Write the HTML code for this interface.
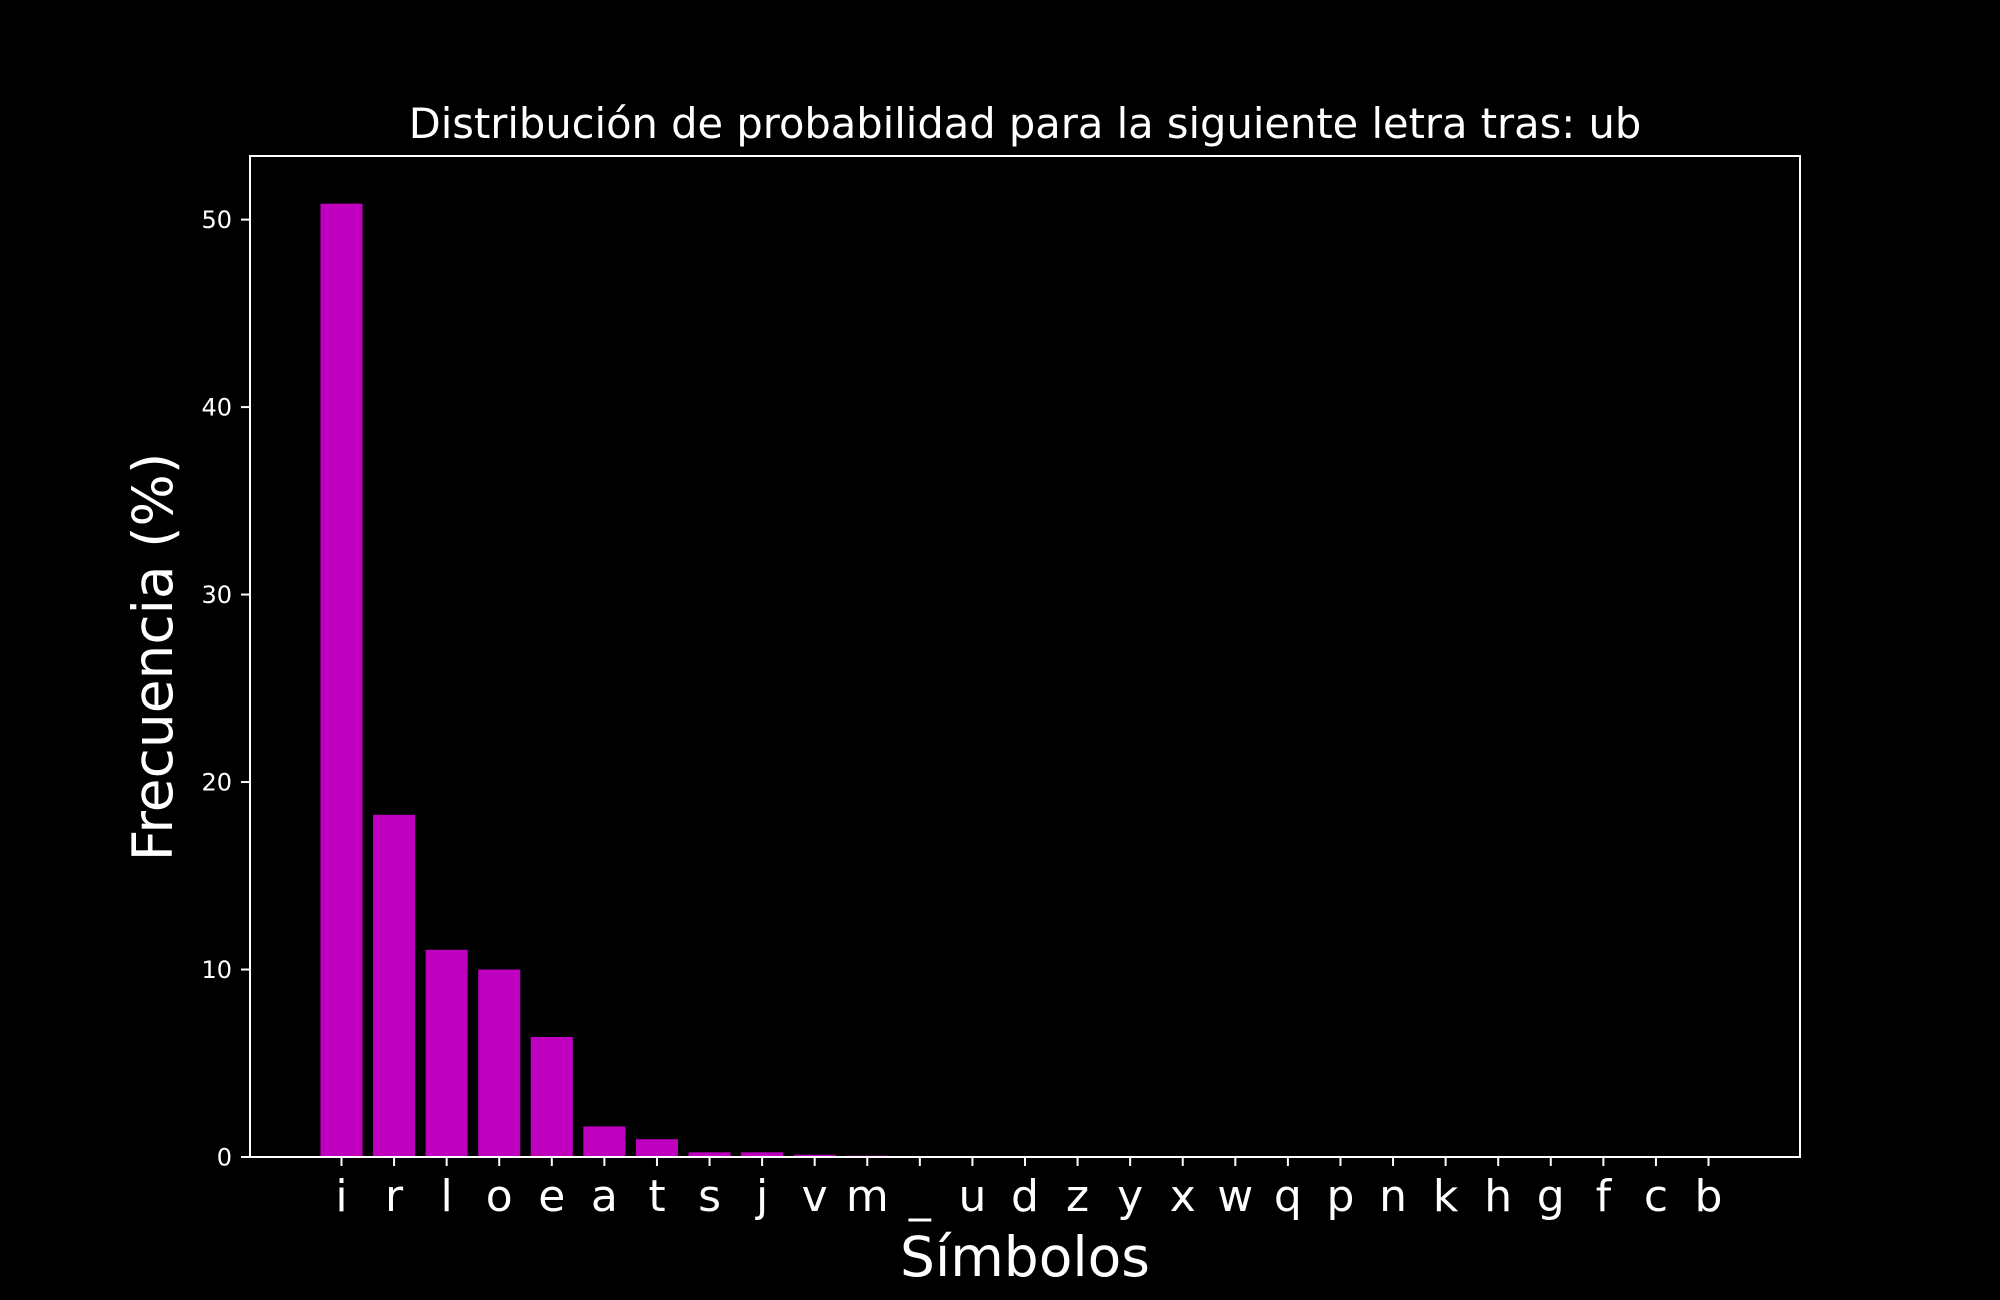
<!DOCTYPE html>
<html><head><meta charset="utf-8"><style>
html,body{margin:0;padding:0;background:#000;}
svg{display:block;font-family:"DejaVu Sans","Liberation Sans",sans-serif;}
</style></head><body>
<svg id="chart" width="2000" height="1300" viewBox="0 0 2000 1300">
<rect width="2000" height="1300" fill="#000"/>
<g id="bars"></g>
<g id="xticks"></g>
<g id="yticks"></g>
<rect x="250" y="156" width="1550" height="1001" fill="none" stroke="#fff" stroke-width="2"/>
<text x="1025" y="138" fill="#fff" font-size="41.6" text-anchor="middle">Distribución de probabilidad para la siguiente letra tras: ub</text>
<text x="1025" y="1276" fill="#fff" font-size="55" text-anchor="middle">Símbolos</text>
<text transform="translate(172,657) rotate(-90)" fill="#fff" font-size="55" text-anchor="middle">Frecuencia (%)</text>
</svg>
<script>
const categories = ["i","r","l","o","e","a","t","s","j","v","m","_","u","d","z","y","x","w","q","p","n","k","h","g","f","c","b"];
const values = [50.85,18.25,11.05,10.0,6.4,1.63,0.95,0.25,0.25,0.12,0.07,0.05,0,0,0,0,0,0,0,0,0,0,0,0,0,0,0];
const yTicks = [0,10,20,30,40,50];
const NS="http://www.w3.org/2000/svg";
const L=250,R=1800,T=156,B=1157;
const n=categories.length;
const xmin=-0.4-0.05*(n-0.2), xmax=n-1+0.4+0.05*(n-0.2);
const ymax=Math.max(...values)*1.05;
const xs=v=>L+(v-xmin)/(xmax-xmin)*(R-L);
const ys=v=>B-v/ymax*(B-T);
const bars=document.getElementById('bars'), xt=document.getElementById('xticks'), yt=document.getElementById('yticks');
categories.forEach((c,i)=>{
  const r=document.createElementNS(NS,'rect');
  const x0=xs(i-0.4),x1=xs(i+0.4);
  r.setAttribute('x',x0);r.setAttribute('width',x1-x0);
  r.setAttribute('y',ys(values[i]));r.setAttribute('height',B-ys(values[i]));
  r.setAttribute('fill','#bf00bf');
  
  
  bars.appendChild(r);
  const tk=document.createElementNS(NS,'line');
  tk.setAttribute('x1',xs(i));tk.setAttribute('x2',xs(i));tk.setAttribute('y1',B);tk.setAttribute('y2',B+9);
  tk.setAttribute('stroke','#fff');tk.setAttribute('stroke-width','2');
  
  
  xt.appendChild(tk);
  const t=document.createElementNS(NS,'text');
  t.setAttribute('x',xs(i));t.setAttribute('y',B+54);t.setAttribute('fill','#fff');
  t.setAttribute('font-size','44');t.setAttribute('text-anchor','middle');
  t.textContent=c;
  
  
  xt.appendChild(t);
});
yTicks.forEach(v=>{
  const tk=document.createElementNS(NS,'line');
  tk.setAttribute('x1',L-9);tk.setAttribute('x2',L);tk.setAttribute('y1',ys(v));tk.setAttribute('y2',ys(v));
  tk.setAttribute('stroke','#fff');tk.setAttribute('stroke-width','2');
  
  
  yt.appendChild(tk);
  const t=document.createElementNS(NS,'text');
  t.setAttribute('x',L-18);t.setAttribute('y',ys(v)+8.5);t.setAttribute('fill','#fff');
  t.setAttribute('font-size','24');t.setAttribute('text-anchor','end');
  t.textContent=v;
  
  
  yt.appendChild(t);
});
</script>
</body></html>
